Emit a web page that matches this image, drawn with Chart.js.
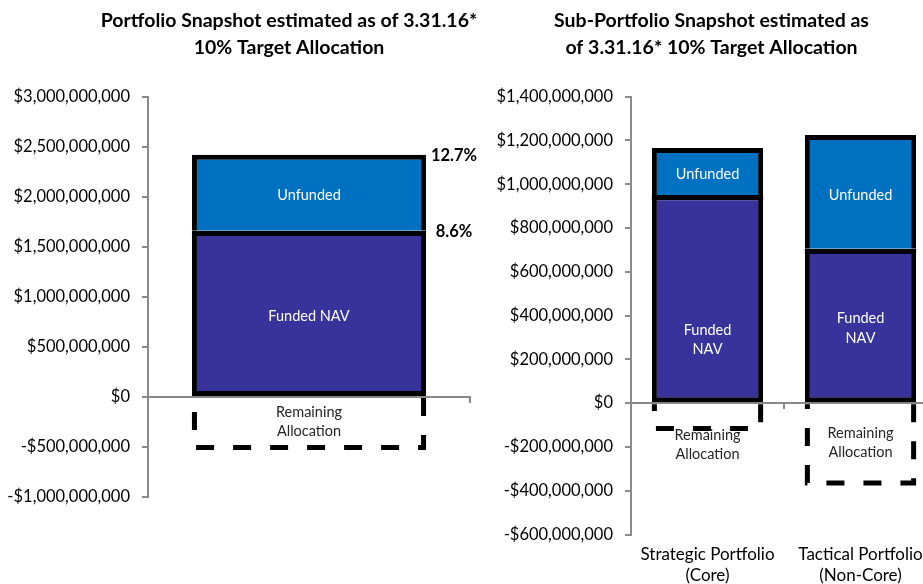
<!DOCTYPE html>
<html>
<head>
<meta charset="utf-8">
<script src="https://cdn.jsdelivr.net/npm/chart.js@4.4.1/dist/chart.umd.min.js"></script>
<style>
    html, body { margin: 0; padding: 0; background: #fff; overflow: hidden; }
    #wrap { position: relative; width: 923px; height: 584px; overflow: hidden; }
    canvas { position: absolute; top: 0; }
</style>
</head>
<body>
<div id="wrap">
    <canvas id="chartPortfolio" width="578" height="584" style="left:0"></canvas>
    <canvas id="chartSubPortfolio" width="483" height="584" style="left:470px"></canvas>
</div>
<script>
// Données
const portfolioCategories = [""];
const portfolioFunded = [1660000000];
const portfolioUnfunded = [760000000];
const portfolioRemaining = [-530000000];
const portfolioPctLabels = ["8.6%", "12.7%"];
const portfolioTicks = { min: -1000000000, max: 3000000000, step: 500000000 };

const subCategories = [["Strategic Portfolio", "(Core)"], ["Tactical Portfolio", "(Non-Core)"]];
const subFunded = [950000000, 705000000];
const subUnfunded = [215000000, 520000000];
const subRemaining = [-127000000, -376000000];
const subTicks = { min: -600000000, max: 1400000000, step: 200000000 };

const seriesNames = ["Funded NAV", "Unfunded", "Remaining Allocation"];
const portfolioInnerLabels = [["Funded NAV"], ["Unfunded"], ["Remaining", "Allocation"]];
const subInnerLabels = [["Funded", "NAV"], ["Unfunded"], ["Remaining", "Allocation"]];

const portfolioTitle = ["Portfolio Snapshot estimated as of 3.31.16*", "10% Target Allocation"];
const subTitle = ["Sub-Portfolio Snapshot estimated as", "of 3.31.16* 10% Target Allocation"];

const AXIS_GREY = "#8a8a8a";
const FUNDED_COLOR = "#37339a";
const UNFUNDED_COLOR = "#0070c0";

Chart.defaults.font.family = "Lato, 'Open Sans', sans-serif";

function fmtMoney(v) {
    return (v < 0 ? "-$" : "$") + Math.abs(v).toLocaleString("en-US");
}

// textes dans les barres + cadre pointillé + pourcentages
const barDecor = {
    id: "barDecor",
    afterDatasetsDraw(chart, args, opts) {
        const ctx = chart.ctx;
        ctx.save();
        chart.data.datasets.forEach((ds, i) => {
            const meta = chart.getDatasetMeta(i);
            meta.data.forEach((bar, j) => {
                const p = bar.getProps(["x", "y", "base", "width"], true);
                const left = p.x - p.width / 2;
                const right = p.x + p.width / 2;
                const top = Math.min(p.y, p.base);
                const bottom = Math.max(p.y, p.base);

                // trait noir net entre Funded et Unfunded
                if (i === 0) {
                    ctx.fillStyle = "#000";
                    ctx.fillRect(left, Math.round(top), p.width, 5);
                }

                if (i === 2) {
                    ctx.setLineDash([18, 19]);
                    ctx.lineWidth = 5;
                    ctx.strokeStyle = "#000";
                    ctx.beginPath();
                    ctx.moveTo(right - 2.5, top);
                    ctx.lineTo(right - 2.5, bottom - 2.5);
                    ctx.lineTo(left + 2.5, bottom - 2.5);
                    ctx.lineTo(left + 2.5, top);
                    ctx.stroke();
                    ctx.setLineDash([]);
                }

                const lines = opts.lines[i] || [];
                const lh = i === 2 ? 19 : 19.5;
                const blockH = lines.length * lh;
                let cy = (top + bottom) / 2;
                if (i === 2) {
                    // étiquette trop haute pour le cadre : on la pose dessous
                    cy = bottom - top < blockH + 6 ? bottom + blockH / 2 - 5 : cy - 2;
                } else {
                    cy += 3 + ((opts.shift && opts.shift[i]) ? opts.shift[i][j] : 0);
                }
                ctx.font = "14.5px Lato";
                ctx.fillStyle = i === 2 ? "#262626" : "#fff";
                ctx.textAlign = "center";
                ctx.textBaseline = "middle";
                lines.forEach((t, k) => {
                    ctx.fillText(t, p.x, cy - blockH / 2 + lh / 2 + k * lh);
                });

                if (opts.pct && opts.pct[i]) {
                    ctx.font = "bold 16.5px Lato";
                    ctx.fillStyle = "#000";
                    ctx.fillText(opts.pct[i], right + 28, top + 1);
                }
            });
        });
        ctx.restore();
    },
};

function makeChart(el, cfg) {
    Chart.getChart(el)?.destroy();
    return new Chart(el, {
        type: "bar",
        data: {
            labels: cfg.labels,
            datasets: [
                {
                    label: seriesNames[0],
                    data: cfg.funded,
                    backgroundColor: FUNDED_COLOR,
                    borderColor: "#000",
                    borderWidth: 5,
                    borderSkipped: false,
                },
                {
                    label: seriesNames[1],
                    data: cfg.unfunded,
                    backgroundColor: UNFUNDED_COLOR,
                    borderColor: "#000",
                    borderWidth: { top: 5, left: 5, right: 5, bottom: 0 },
                    borderSkipped: false,
                },
                {
                    label: seriesNames[2],
                    data: cfg.remaining,
                    backgroundColor: "rgba(0,0,0,0)",
                    borderWidth: 0,
                },
            ],
        },
        options: {
            responsive: false,
            animation: false,
            datasets: { bar: { categoryPercentage: 1, barPercentage: 0.727 } },
            layout: { padding: cfg.padding },
            plugins: {
                legend: { display: false },
                tooltip: { enabled: false },
                title: {
                    display: true,
                    text: cfg.title,
                    color: "#000",
                    font: { size: 19.5, weight: "bold", lineHeight: 1.4 },
                    padding: { top: 7, bottom: 35 },
                },
                barDecor: { lines: cfg.innerLabels, pct: cfg.pct, shift: cfg.labelShift },
            },
            scales: {
                x: {
                    type: "category",
                    stacked: true,
                    offset: true,
                    position: { y: 0 },
                    ticks: { display: false },
                    grid: { offset: true, drawOnChartArea: false, tickLength: 5, color: AXIS_GREY, lineWidth: 2 },
                    border: { color: AXIS_GREY, width: 2 },
                },
                xLabels: {
                    type: "category",
                    axis: "x",
                    offset: true,
                    position: "bottom",
                    display: cfg.showCategories,
                    grid: { display: false, drawTicks: false },
                    border: { display: false },
                    ticks: { color: "#000", padding: 9.5, font: { size: 17, lineHeight: 1.22 }, maxRotation: 0 },
                },
                y: {
                    stacked: true,
                    min: cfg.ticks.min,
                    max: cfg.ticks.max,
                    ticks: {
                        stepSize: cfg.ticks.step,
                        callback: fmtMoney,
                        color: "#000",
                        padding: 12,
                        font: { size: 16.5 },
                    },
                    grid: { drawOnChartArea: false, tickLength: 6, color: AXIS_GREY, lineWidth: 2 },
                    border: { color: AXIS_GREY, width: 2 },
                    afterFit: (s) => { s.width = cfg.yWidth; },
                },
                // espace vide à droite, pour centrer le titre comme l'original
                yPad: {
                    type: "linear",
                    position: "right",
                    grid: { display: false, drawTicks: false },
                    border: { display: false },
                    ticks: { display: false },
                    afterFit: (s) => { s.width = cfg.padWidth; },
                },
            },
        },
        plugins: [barDecor],
    });
}

makeChart(document.getElementById("chartPortfolio"), {
    labels: portfolioCategories,
    funded: portfolioFunded,
    unfunded: portfolioUnfunded,
    remaining: portfolioRemaining,
    ticks: portfolioTicks,
    title: portfolioTitle,
    innerLabels: portfolioInnerLabels,
    pct: portfolioPctLabels,
    labelShift: null,
    showCategories: false,
    yWidth: 148,
    padWidth: 108,
    padding: { left: 0, right: 0, top: 0, bottom: 87 },
});

makeChart(document.getElementById("chartSubPortfolio"), {
    labels: subCategories,
    funded: subFunded,
    unfunded: subUnfunded,
    remaining: subRemaining,
    ticks: subTicks,
    title: subTitle,
    innerLabels: subInnerLabels,
    pct: null,
    labelShift: [[38, 0], [0, 0]], // l'étiquette "Funded NAV" de gauche est placée plus bas dans l'original
    showCategories: true,
    yWidth: 161,
    padWidth: 16,
    padding: { left: 0, right: 0, top: 0, bottom: -11 },
});
</script>
</body>
</html>
